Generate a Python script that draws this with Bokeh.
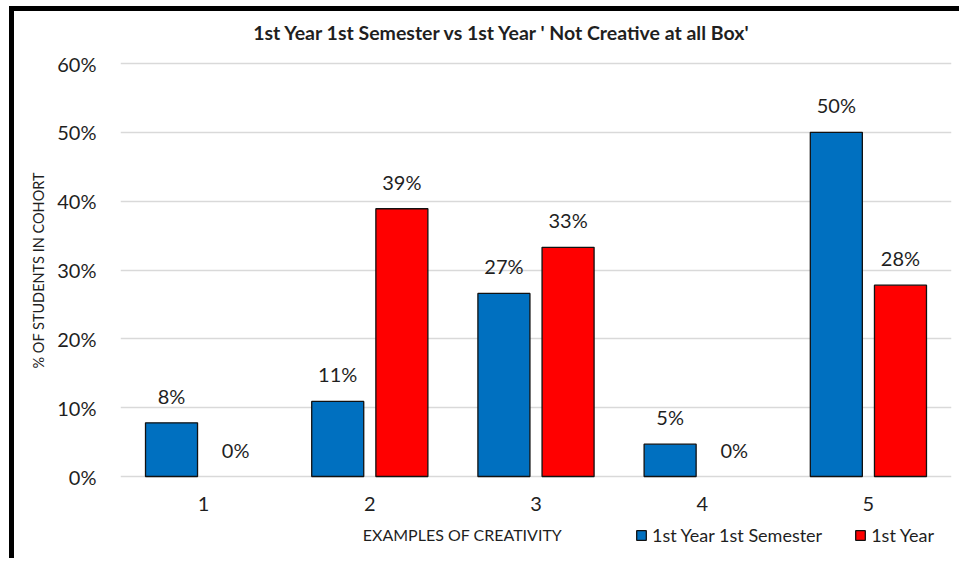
from bokeh.plotting import figure
from bokeh.models import (Range1d, FixedTicker, NumeralTickFormatter, Label, Title,
                          Legend, LegendItem, ColumnDataSource)
from bokeh.embed import file_html
from bokeh.resources import INLINE
from bokeh.core.properties import value

categories = [1, 2, 3, 4, 5]
semester_values = [0.078, 0.109, 0.266, 0.047, 0.500]
year_values = [0.0, 0.389, 0.333, 0.0, 0.278]
series_names = ["1st Year 1st Semester", "1st Year"]
y_ticks = [0, 0.1, 0.2, 0.3, 0.4, 0.5, 0.6]
title_text = "1st Year 1st Semester vs 1st Year ' Not Creative at all Box'"
x_title = "EXAMPLES OF CREATIVITY"
y_title = "% OF STUDENTS IN COHORT"

FONT = "Lato"
TXT = "#1f1f1f"
BLUE = "#0070C0"
RED = "#FF0000"
OFF = 0.193
BW = 0.313

# frame spans canvas y 11..563; value axis 0..0.6 occupies canvas y 476..63
PX_PER_UNIT = 413 / 0.6
y_lo = -87 / PX_PER_UNIT
y_hi = 0.6 + 52 / PX_PER_UNIT

p = figure(width=950, height=552, output_backend="svg", toolbar_location=None,
           title=None, x_range=Range1d(0.5, 5.5), y_range=Range1d(y_lo, y_hi),
           min_border_left=106, min_border_right=13, min_border_top=0,
           min_border_bottom=0)
p.styles = {"margin-top": "11px", "margin-left": "14px",
            "box-shadow": "-5px -5px 0px 0px black"}
p.outline_line_color = None
p.background_fill_color = "white"
p.border_fill_color = "white"

def make_src(xs_off, vals):
    return ColumnDataSource(dict(
        x=[c + xs_off for c in categories], y=vals,
        lab=[f"{round(v*100):.0f}%" for v in vals],
        la=[1.0 if v > 0 else 0.0 for v in vals]))

src1 = make_src(-OFF, semester_values)
src2 = make_src(OFF, year_values)

r1 = p.vbar(x="x", top="y", width=BW, source=src1, fill_color=BLUE,
            line_color="#111111", line_width=1.3, line_alpha="la")
r2 = p.vbar(x="x", top="y", width=BW, source=src2, fill_color=RED,
            line_color="#111111", line_width=1.3, line_alpha="la")

for s in (src1, src2):
    p.text(x="x", y="y", text="lab", source=s, text_align="center",
           text_baseline="alphabetic", y_offset=-27, text_font=value(FONT),
           text_font_size="20px", text_color=TXT)

# axes
p.xaxis.ticker = FixedTicker(ticks=categories)
p.xaxis.fixed_location = 0
p.yaxis.ticker = FixedTicker(ticks=y_ticks)
p.yaxis.formatter = NumeralTickFormatter(format="0%")
for ax in (p.xaxis, p.yaxis):
    ax.axis_line_color = None
    ax.major_tick_line_color = None
    ax.minor_tick_line_color = None
    ax.major_label_text_font = FONT
    ax.major_label_text_font_size = "20px"
    ax.major_label_text_color = TXT
p.yaxis.major_label_standoff = 18
p.xaxis.major_label_standoff = 14

p.xgrid.grid_line_color = None
p.ygrid.ticker = FixedTicker(ticks=y_ticks)
p.ygrid.grid_line_color = "#D9D9D9"
p.ygrid.grid_line_width = 1.6

# y-axis title (left side panel)
p.add_layout(Title(text=y_title, align="left", offset=195, standoff=16,
                   text_font=FONT, text_font_size="14.5px", text_font_style="normal",
                   text_color=TXT), "left")

# chart title and x-axis title
p.add_layout(Label(x=382, y=531, x_units="screen", y_units="screen", text=title_text,
                   text_align="center", text_baseline="middle", text_font=FONT,
                   text_font_style="bold", text_font_size="19.5px", text_color=TXT))
p.add_layout(Label(x=342, y=29, x_units="screen", y_units="screen", text=x_title,
                   text_align="center", text_baseline="middle", text_font=FONT,
                   text_font_size="16px", text_color=TXT))

# legend
legend = Legend(items=[LegendItem(label=series_names[0], renderers=[r1], index=1),
                       LegendItem(label=series_names[1], renderers=[r2], index=1)],
                orientation="horizontal", location=(515, 17),
                glyph_width=12, glyph_height=12, label_standoff=5, spacing=32,
                padding=0, margin=0, border_line_color=None,
                background_fill_alpha=0, label_text_font=FONT,
                label_text_font_size="18px", label_text_color=TXT,
                label_height=20)
p.add_layout(legend, "center")

open("out.html", "w").write(file_html(p, INLINE))
